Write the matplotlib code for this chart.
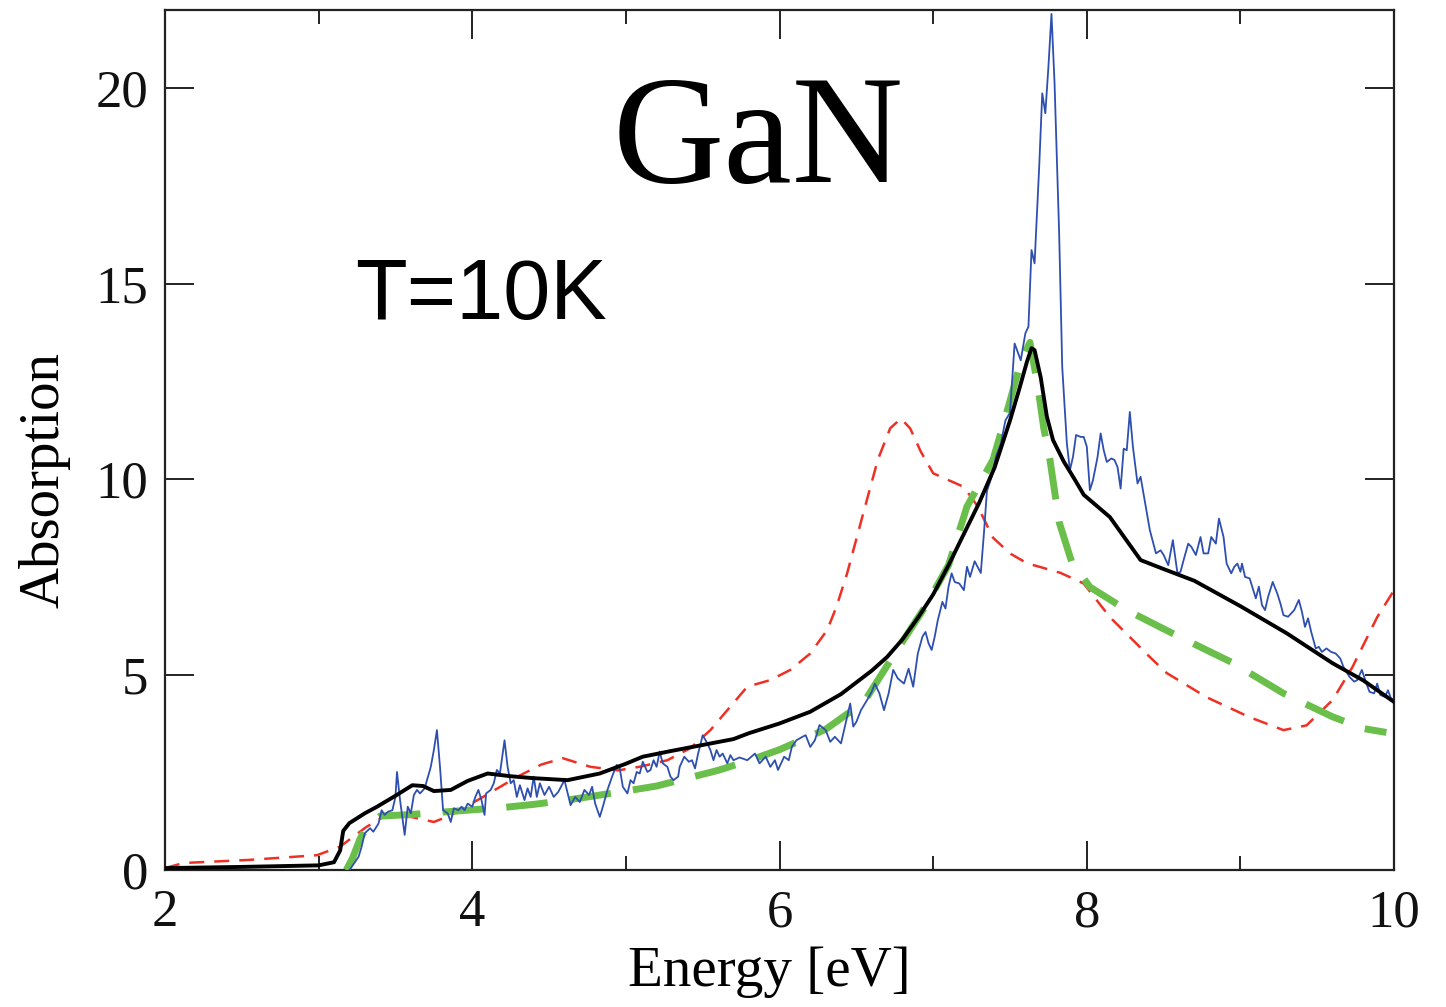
import numpy as np
import matplotlib
matplotlib.use("Agg")
import matplotlib.pyplot as plt
from matplotlib.ticker import MultipleLocator

# --- data ---
black_x = [2.0, 2.5, 3.0, 3.1, 3.14, 3.16, 3.2, 3.3, 3.38, 3.5, 3.61, 3.68, 3.75, 3.86, 3.97,
           4.1, 4.25, 4.4, 4.62, 4.83, 5.0, 5.11, 5.3, 5.5, 5.7, 5.8, 6.0, 6.2, 6.4, 6.6,
           6.7, 6.8, 6.9, 7.0, 7.1, 7.2, 7.3, 7.4, 7.5, 7.56, 7.61, 7.64, 7.66, 7.7, 7.74,
           7.78, 7.85, 7.92, 7.98, 8.15, 8.35, 8.5, 8.7, 9.0, 9.3, 9.6, 9.8, 10.0]
black_y = [0.05, 0.08, 0.12, 0.2, 0.5, 1.0, 1.2, 1.45, 1.62, 1.9, 2.17, 2.15, 2.02, 2.05, 2.28,
           2.47, 2.4, 2.35, 2.3, 2.47, 2.72, 2.9, 3.05, 3.2, 3.35, 3.5, 3.75, 4.05, 4.5, 5.1,
           5.45, 5.9, 6.45, 7.05, 7.8, 8.6, 9.4, 10.3, 11.5, 12.3, 13.0, 13.35, 13.3, 12.6, 11.6,
           11.0, 10.45, 10.0, 9.6, 9.03, 7.93, 7.7, 7.4, 6.75, 6.06, 5.29, 4.85, 4.3]

green_x = [3.18, 3.22, 3.27, 3.32, 3.4, 3.6, 3.8, 4.0, 4.2, 4.4, 4.6, 4.8, 5.0, 5.2, 5.4,
           5.6, 5.8, 6.0, 6.3, 6.55, 6.76, 6.95, 7.1, 7.22, 7.39, 7.5, 7.57, 7.63, 7.68,
           7.72, 7.76, 7.82, 7.9, 8.02, 8.26, 8.56, 8.95, 9.28, 9.6, 9.8, 9.95]
green_y = [0.0, 0.3, 0.8, 1.15, 1.38, 1.42, 1.48, 1.54, 1.6, 1.68, 1.78, 1.9, 2.02, 2.15, 2.35,
           2.55, 2.8, 3.08, 3.6, 4.3, 5.6, 6.75, 7.8, 9.3, 10.5, 12.0, 13.0, 13.5, 12.4,
           11.3, 10.5, 8.9, 7.9, 7.24, 6.65, 6.05, 5.3, 4.52, 3.92, 3.62, 3.52]

red_x = [2.0, 2.12, 2.55, 2.99, 3.14, 3.31, 3.42, 3.6, 3.75, 3.86, 4.07, 4.29, 4.45, 4.59,
         4.77, 4.95, 5.1, 5.27, 5.42, 5.55, 5.66, 5.79, 5.94, 6.07, 6.2, 6.31, 6.37, 6.44,
         6.55, 6.64, 6.72, 6.79, 6.85, 6.92, 7.0, 7.2, 7.29, 7.39, 7.5, 7.61, 7.83, 7.98,
         8.15, 8.41, 8.52, 8.78, 9.06, 9.28, 9.43, 9.6, 9.73, 9.89, 10.0]
red_y = [0.05, 0.18, 0.26, 0.38, 0.6, 1.1, 1.36, 1.36, 1.23, 1.4, 1.87, 2.38, 2.7, 2.86,
         2.64, 2.55, 2.65, 2.81, 3.12, 3.58, 4.09, 4.69, 4.86, 5.12, 5.54, 6.14, 6.73, 7.59,
         9.2, 10.5, 11.3, 11.55, 11.3, 10.7, 10.15, 9.8, 9.3, 8.5, 8.1, 7.85, 7.6, 7.33,
         6.47, 5.45, 5.04, 4.42, 3.91, 3.58, 3.7, 4.35, 5.2, 6.47, 7.16]

blue_x = [3.2, 3.215, 3.26, 3.28, 3.30, 3.335, 3.356, 3.39, 3.41, 3.43, 3.45, 3.48, 3.50,
          3.51, 3.53, 3.56, 3.58, 3.60, 3.62, 3.64, 3.66, 3.69, 3.73, 3.75, 3.77, 3.79, 3.81,
          3.84, 3.86, 3.88, 3.91, 3.93, 3.95, 3.97, 4.00, 4.02, 4.04, 4.06, 4.08, 4.09, 4.12,
          4.14, 4.16, 4.18, 4.21, 4.23, 4.25, 4.27, 4.29, 4.31, 4.34, 4.36, 4.38, 4.40, 4.42,
          4.44, 4.47, 4.50, 4.53, 4.56, 4.60, 4.64, 4.67, 4.70, 4.73, 4.76, 4.78, 4.80, 4.83,
          4.85, 4.88, 4.91, 4.94, 4.96, 4.98, 5.01, 5.03, 5.05, 5.07, 5.09, 5.11, 5.14, 5.16,
          5.18, 5.20, 5.22, 5.24, 5.27, 5.29, 5.31, 5.34, 5.35, 5.38, 5.41, 5.43, 5.45, 5.47,
          5.50, 5.53, 5.55, 5.57, 5.59, 5.61, 5.63, 5.66, 5.68, 5.70, 5.74, 5.79, 5.84, 5.87,
          5.91, 5.94, 5.97, 5.99, 6.03, 6.06, 6.08, 6.11, 6.15, 6.17, 6.20, 6.23, 6.26, 6.30,
          6.33, 6.36, 6.40, 6.43, 6.46, 6.48, 6.50, 6.53, 6.57, 6.60, 6.62, 6.65, 6.68, 6.71,
          6.74, 6.77, 6.81, 6.84, 6.87, 6.90, 6.93, 6.95, 6.97, 6.99, 7.01, 7.03, 7.06, 7.08,
          7.10, 7.12, 7.14, 7.17, 7.20, 7.22, 7.24, 7.27, 7.31, 7.33, 7.35, 7.38, 7.41, 7.44,
          7.47, 7.50, 7.53, 7.57, 7.60, 7.62, 7.64, 7.66, 7.69, 7.71, 7.73, 7.75, 7.77, 7.79,
          7.82, 7.84, 7.87, 7.89, 7.91, 7.93, 7.96, 7.98, 8.00, 8.02, 8.04, 8.07, 8.09, 8.11,
          8.13, 8.16, 8.18, 8.20, 8.22, 8.24, 8.26, 8.28, 8.30, 8.33, 8.35, 8.38, 8.41, 8.45,
          8.48, 8.50, 8.53, 8.56, 8.59, 8.61, 8.63, 8.66, 8.68, 8.71, 8.74, 8.76, 8.79, 8.81,
          8.84, 8.86, 8.89, 8.91, 8.94, 8.96, 8.98, 9.00, 9.01, 9.03, 9.06, 9.10, 9.12, 9.14,
          9.16, 9.18, 9.21, 9.24, 9.26, 9.28, 9.31, 9.35, 9.38, 9.40, 9.42, 9.44, 9.46, 9.49,
          9.51, 9.53, 9.56, 9.59, 9.62, 9.65, 9.67, 9.71, 9.74, 9.76, 9.79, 9.82, 9.84, 9.87,
          9.89, 9.91, 9.94, 9.96, 9.98, 10.0]
blue_y = [0.0, 0.08, 0.34, 0.6, 0.94, 1.07, 0.98, 1.19, 1.53, 1.41, 1.49, 1.53, 1.87,
          2.51, 1.79, 0.9, 1.62, 1.45, 1.92, 2.05, 1.96, 2.09, 2.64, 3.07, 3.58, 2.64, 1.53,
          1.45, 1.23, 1.58, 1.53, 1.62, 1.53, 1.70, 1.62, 1.87, 2.05, 1.79, 1.41, 1.96, 2.05,
          2.22, 2.56, 2.47, 3.32, 2.64, 2.22, 2.30, 1.87, 2.17, 1.79, 2.09, 1.87, 2.39, 1.87,
          2.22, 1.92, 2.13, 1.87, 2.00, 2.30, 1.66, 1.87, 1.74, 2.05, 1.92, 2.13, 1.70, 1.36,
          1.62, 2.05, 2.39, 2.69, 2.60, 2.13, 1.96, 2.30, 2.22, 2.51, 2.47, 2.77, 2.51, 2.56,
          2.81, 2.64, 3.03, 2.73, 2.64, 2.39, 2.30, 2.39, 2.64, 2.90, 2.77, 2.81, 2.60, 2.98,
          3.45, 3.24, 3.07, 2.81, 3.07, 2.90, 2.98, 2.73, 2.94, 2.81, 2.88, 2.81, 2.98, 2.73,
          2.90, 2.64, 2.81, 2.56, 2.90, 2.81, 3.15, 3.32, 3.41, 3.45, 3.15, 3.32, 3.71, 3.58,
          3.28, 3.41, 3.24, 3.75, 4.26, 3.67, 3.79, 4.09, 4.35, 4.56, 4.77, 4.52, 4.09, 4.52,
          5.12, 4.90, 4.77, 5.15, 4.69, 5.54, 5.97, 6.09, 5.80, 5.63, 5.97, 6.39, 6.86, 6.69,
          7.25, 7.59, 7.37, 7.33, 7.16, 7.76, 7.50, 7.90, 7.60, 8.60, 9.70, 10.05, 10.60, 10.90,
          11.50, 11.70, 13.47, 13.04, 13.73, 13.90, 15.86, 15.52, 17.99, 19.87, 19.36, 20.54, 21.9, 20.13,
          16.28, 12.87, 10.92, 10.23, 10.57, 11.13, 11.08, 11.08, 10.83, 9.72, 9.97, 10.57, 11.17, 10.74,
          10.44, 10.53, 10.49, 10.31, 9.76, 10.78, 10.74, 11.72, 10.83, 9.89, 10.06, 9.38, 8.70, 8.10,
          8.18, 8.06, 7.80, 8.44, 7.59, 7.63, 7.93, 8.35, 8.27, 8.06, 8.52, 8.10, 8.10, 8.52,
          8.35, 8.99, 8.52, 7.84, 7.59, 7.76, 7.84, 7.63, 7.84, 7.50, 7.46, 6.95, 7.25, 6.78,
          6.65, 6.99, 7.37, 7.07, 6.82, 6.52, 6.48, 6.65, 6.91, 6.61, 6.22, 6.44, 6.10, 5.67,
          5.71, 5.58, 5.67, 5.58, 5.54, 5.41, 5.20, 4.94, 4.82, 4.86, 5.12, 4.77, 4.56, 4.52,
          4.77, 4.48, 4.43, 4.60, 4.39, 4.35]

xticks = [2, 4, 6, 8, 10]
yticks = [0, 5, 10, 15, 20]

serif = "Liberation Serif"

fig = plt.figure(figsize=(14.46, 10.07), dpi=100)
ax = fig.add_axes([0.1141, 0.136, 0.8500, 0.854])

ax.plot(red_x, red_y, color="#ee3124", lw=1.8, dashes=(6, 4), zorder=2)
ax.plot(green_x, green_y, color="#6abf4b", lw=5, dashes=(6, 3.2), zorder=3)
ax.plot(blue_x, blue_y, color="#2e4fb0", lw=1.3, zorder=4)
ax.plot(black_x, black_y, color="black", lw=2.8, zorder=5,
        solid_joinstyle="round")

ax.set_xlim(2, 10)
ax.set_ylim(0, 22)
ax.set_xticks(xticks)
ax.set_yticks(yticks)
ax.xaxis.set_minor_locator(MultipleLocator(1))

ax.tick_params(which="both", direction="in", top=True, right=True, width=1.4, colors="#222222")
ax.tick_params(which="major", length=21)
ax.tick_params(which="minor", length=10)
ax.tick_params(axis="x", which="major", pad=14)
ax.tick_params(axis="y", which="major", pad=12)
for lbl in ax.get_xticklabels() + ax.get_yticklabels():
    lbl.set_fontfamily(serif)
    lbl.set_fontsize(38)
    lbl.set_color("#111111")
for s in ax.spines.values():
    s.set_linewidth(1.6)
    s.set_color("#222222")

ax.set_xlabel("Energy [eV]", fontfamily=serif, fontsize=41, labelpad=9)
ax.xaxis.set_label_coords(0.492, -0.088)
ax.set_ylabel("Absorption", fontfamily=serif, fontsize=41)
ax.yaxis.set_label_coords(-0.077, 0.453)

ax.text(5.86, 17.6, "GaN", fontfamily=serif, fontsize=111, ha="center", va="baseline")
ax.text(3.24, 14.1, "T=10K", fontfamily="Liberation Sans", fontsize=61, ha="left", va="baseline")

fig.savefig("out.png", dpi=100)
